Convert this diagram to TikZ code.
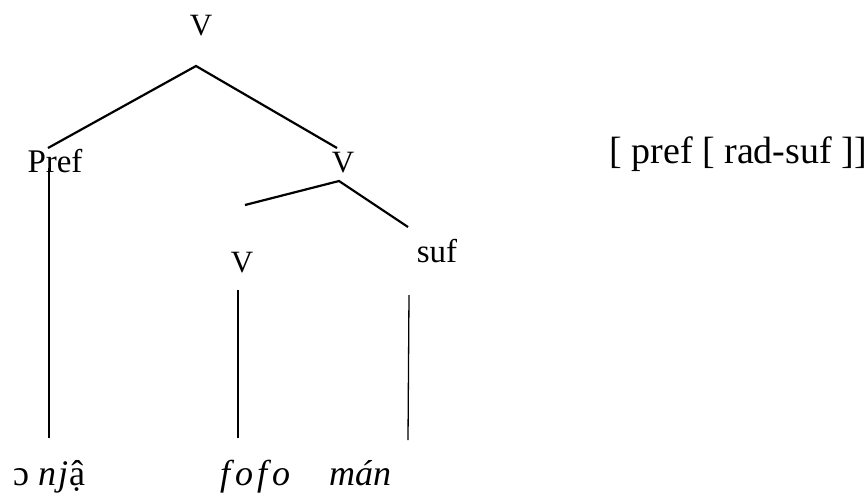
\documentclass[tikz,border=0pt]{standalone}
\usepackage{fontspec}
\setmainfont{Liberation Serif}
\begin{document}
\begin{tikzpicture}[x=1pt,y=-1pt,
  lbl/.style={inner sep=0pt,anchor=base,font=\fontsize{31}{36}\selectfont},
  small/.style={inner sep=0pt,anchor=base,font=\fontsize{33}{38}\selectfont},
  word/.style={inner sep=0pt,anchor=base west,font=\fontsize{36}{42}\selectfont},
  branch/.style={line width=2.2pt},
  stem/.style={line width=1.3pt}]
\useasboundingbox (0,0) rectangle (867,493);
% labels
\node[lbl] (v0) at (201,35) {V};
\node[small] (pref) at (55,172) {Pref};
\node[lbl] (v1) at (343,172) {V};
\node[lbl] (v2) at (242,272) {V};
\node[small] (suf) at (437,262) {suf};
\node[inner sep=0pt,anchor=base east,font=\fontsize{38}{44}\selectfont] (br) at (867,163) {[ pref [ rad-suf ]]};
\node[word] (w1) at (13,485) {ɔ\hspace{9pt}\textit{n\hspace{2pt}j}\hspace{1pt}ậ};
\node[word] (w2) at (220,485) {\textit{f\hspace{5pt}o\hspace{4pt}f\hspace{5pt}o}};
\node[word] (w3) at (329,485) {\textit{mán}};
% attachment points
\coordinate (t0) at (196,66);
\coordinate (pl) at (48,148);
\coordinate (pr) at (337,148);
\coordinate (t1) at (339,181);
\coordinate (ql) at (245,205);
\coordinate (qr) at (408,227);
\coordinate (pb) at (49,438);
\coordinate (ps) at (49,168);
\coordinate (vt) at (238,290);
\coordinate (vb) at (238,438);
\coordinate (st) at (409,295);
\coordinate (sb) at (408,440);
% connectors
\draw[branch] (pl) -- (t0) -- (pr);
\draw[branch] (ql) -- (t1) -- (qr);
\draw[stem] (ps) -- (pb);
\draw[stem] (vt) -- (vb);
\draw[stem] (st) -- (sb);
\end{tikzpicture}
\end{document}
